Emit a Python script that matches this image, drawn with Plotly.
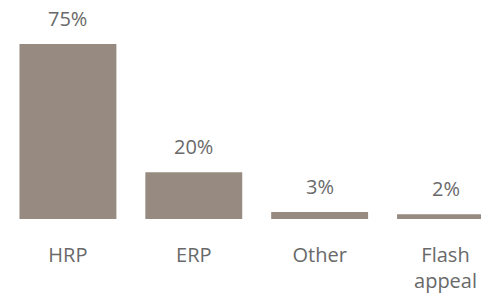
import plotly.graph_objects as go

categories = ["HRP", "ERP", "Other", "Flash<br>appeal"]
values = [75, 20, 3, 2]
labels = ["75%", "20%", "3%", "2%"]

BAR = "#978b81"
TXT = "#696969"
FONT = "Open Sans"

fig = go.Figure(go.Bar(
    x=[0, 1, 2, 3], y=values,
    marker=dict(color=BAR, line=dict(width=0)),
    hoverinfo="skip",
))

for i, (v, t) in enumerate(zip(values, labels)):
    fig.add_annotation(x=i, y=v, text=t, showarrow=False, yanchor="bottom",
                       yshift=10, font=dict(family=FONT, size=20, color=TXT))

fig.update_layout(
    width=481, height=297,
    margin=dict(l=4.5, r=0, t=0, b=78, autoexpand=False),
    paper_bgcolor="white", plot_bgcolor="white",
    bargap=0.23,
    showlegend=False,
    xaxis=dict(range=[-0.5, 3.282], tickmode="array", tickvals=[0, 1, 2, 3],
               ticktext=categories, showgrid=False, zeroline=False, showline=False,
               ticks="", ticklabelstandoff=22, automargin=False,
               tickfont=dict(family=FONT, size=20, color=TXT)),
    yaxis=dict(range=[0, 93.86], visible=False, automargin=False),
)

fig.write_html(
    "out.html",
    config={"displayModeBar": False},
    post_script="document.body.style.margin='0';document.body.style.overflow='hidden';",
)
